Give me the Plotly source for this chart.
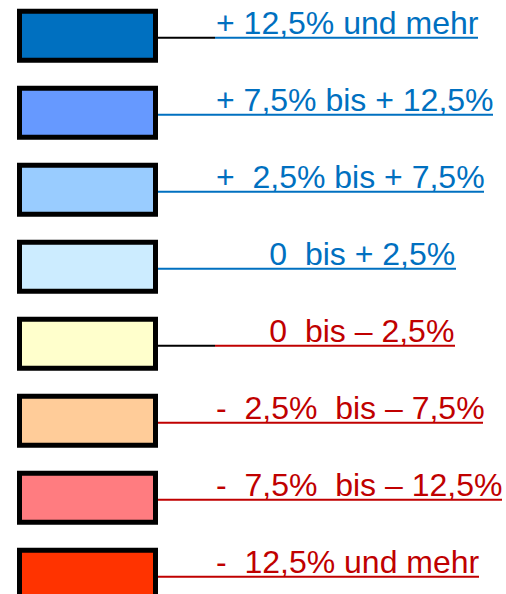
import plotly.graph_objects as go

# legend classes, top to bottom
labels = [
    "+ 12,5% und mehr",
    "+ 7,5% bis + 12,5%",
    "+\u00a0 2,5% bis + 7,5%",
    "\u00a0\u00a0\u00a0\u00a0\u00a0\u00a00\u00a0 bis + 2,5%",
    "\u00a0\u00a0\u00a0\u00a0\u00a0\u00a00\u00a0 bis \u2013 2,5%",
    "-\u00a0 2,5%\u00a0 bis \u2013 7,5%",
    "-\u00a0 7,5%\u00a0 bis \u2013 12,5%",
    "-\u00a0 12,5% und mehr",
]
fills = ["#0070C0", "#6699FF", "#99CCFF", "#CCECFF",
         "#FFFFCC", "#FFCC99", "#FF7C80", "#FF3300"]
text_colors = ["#0070C0"] * 4 + ["#C00000"] * 4
black_lead = [True, False, False, False, True, False, False, False]

# layout helpers (pixels of a 506x594 canvas)
W, H = 506, 594
row_top, row_step = 8.7, 77.0
box_x0, box_x1, box_h = 17, 158, 54
text_x = 215
underline_end = [478, 493, 484, 456, 455, 483, 502, 479]

fig = go.Figure()
shapes, annotations = [], []
for i, (lab, fc, tc) in enumerate(zip(labels, fills, text_colors)):
    top = row_top + i * row_step
    line_y = top + 29
    shapes.append(dict(type="rect", xref="x", yref="y",
                       x0=box_x0 + 2.5, x1=box_x1 - 2.5,
                       y0=top + 2.5, y1=top + box_h - 2.5,
                       fillcolor=fc, line=dict(color="black", width=5)))
    if black_lead[i]:
        shapes.append(dict(type="line", xref="x", yref="y", x0=box_x1, x1=text_x,
                           y0=line_y, y1=line_y, line=dict(color="black", width=2)))
        start = text_x
    else:
        start = box_x1
    shapes.append(dict(type="line", xref="x", yref="y", x0=start, x1=underline_end[i],
                       y0=line_y, y1=line_y, line=dict(color=tc, width=2)))
    annotations.append(dict(x=text_x, y=line_y - 15, xref="x", yref="y", text=lab,
                            showarrow=False, xanchor="left", yanchor="middle",
                            borderpad=0,
                            font=dict(family="Liberation Sans, Arial", size=32, color=tc)))

fig.update_layout(width=W, height=H, margin=dict(l=0, r=0, t=0, b=0),
                  paper_bgcolor="white", plot_bgcolor="white",
                  shapes=shapes, annotations=annotations, showlegend=False)
fig.update_xaxes(range=[0, W], visible=False, fixedrange=True)
fig.update_yaxes(range=[H, 0], visible=False, fixedrange=True)
fig.write_html("out.html", config={"displayModeBar": False},
               post_script="document.body.style.margin='0';")
